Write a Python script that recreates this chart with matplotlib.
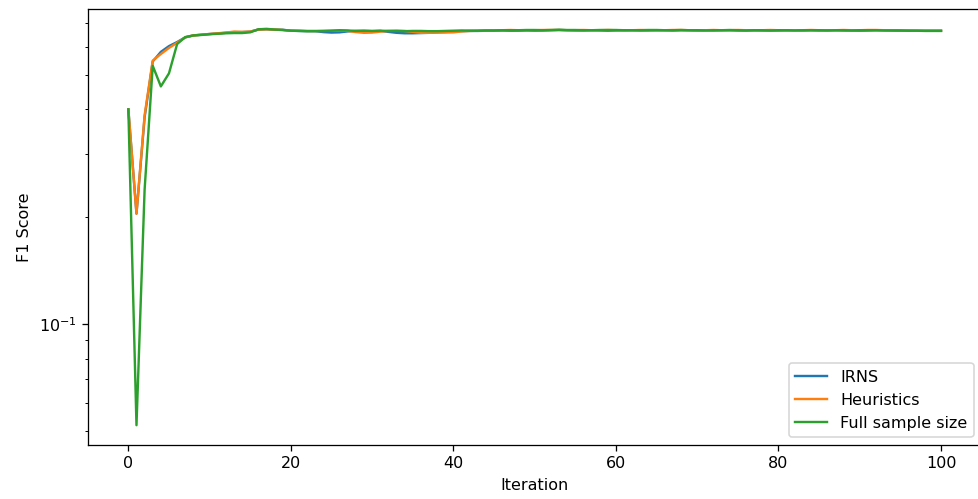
import numpy as np
import matplotlib
matplotlib.use("Agg")
import matplotlib.pyplot as plt

iterations = np.arange(101)

f1_irns = [
    0.400, 0.204, 0.380, 0.545, 0.580, 0.602, 0.618, 0.637, 0.645, 0.648,
    0.651, 0.653, 0.656, 0.659, 0.659, 0.661, 0.670, 0.671, 0.669, 0.669,
    0.665, 0.664, 0.663, 0.663, 0.659, 0.657, 0.658, 0.662, 0.664, 0.664,
    0.663, 0.664, 0.660, 0.656, 0.654, 0.654, 0.655, 0.656, 0.658, 0.660,
    0.662, 0.663, 0.664, 0.664, 0.665, 0.665, 0.666, 0.665, 0.665, 0.666,
    0.665, 0.666, 0.667, 0.668, 0.667, 0.666, 0.666, 0.667, 0.666, 0.665,
    0.666, 0.667, 0.667, 0.666, 0.666, 0.667, 0.667, 0.666, 0.667, 0.667,
    0.666, 0.667, 0.666, 0.667, 0.667, 0.666, 0.666, 0.667, 0.666, 0.666,
    0.666, 0.667, 0.667, 0.666, 0.667, 0.666, 0.667, 0.667, 0.666, 0.666,
    0.665, 0.666, 0.667, 0.667, 0.666, 0.665, 0.665, 0.665, 0.665, 0.665,
    0.665,
]

f1_heuristics = [
    0.400, 0.204, 0.385, 0.548, 0.572, 0.595, 0.615, 0.637, 0.645, 0.648,
    0.651, 0.654, 0.657, 0.661, 0.660, 0.661, 0.670, 0.671, 0.670, 0.668,
    0.665, 0.665, 0.664, 0.664, 0.664, 0.665, 0.666, 0.664, 0.659, 0.656,
    0.657, 0.661, 0.664, 0.665, 0.664, 0.660, 0.656, 0.656, 0.657, 0.657,
    0.658, 0.662, 0.664, 0.665, 0.666, 0.666, 0.667, 0.668, 0.667, 0.667,
    0.667, 0.668, 0.668, 0.668, 0.667, 0.667, 0.668, 0.667, 0.667, 0.668,
    0.667, 0.666, 0.667, 0.668, 0.667, 0.666, 0.667, 0.668, 0.668, 0.667,
    0.666, 0.667, 0.668, 0.667, 0.667, 0.668, 0.667, 0.666, 0.667, 0.668,
    0.667, 0.666, 0.667, 0.667, 0.668, 0.667, 0.666, 0.667, 0.668, 0.667,
    0.667, 0.668, 0.668, 0.667, 0.667, 0.666, 0.666, 0.665, 0.665, 0.665,
    0.665,
]

f1_full = [
    0.400, 0.052, 0.238, 0.530, 0.464, 0.505, 0.610, 0.638, 0.645, 0.647,
    0.650, 0.652, 0.654, 0.655, 0.655, 0.658, 0.671, 0.673, 0.670, 0.668,
    0.665, 0.664, 0.663, 0.663, 0.664, 0.665, 0.667, 0.666, 0.664, 0.665,
    0.664, 0.665, 0.664, 0.664, 0.663, 0.664, 0.664, 0.663, 0.663, 0.664,
    0.665, 0.666, 0.665, 0.665, 0.666, 0.666, 0.667, 0.667, 0.667, 0.668,
    0.668, 0.667, 0.668, 0.669, 0.668, 0.668, 0.667, 0.667, 0.668, 0.668,
    0.668, 0.667, 0.667, 0.667, 0.668, 0.668, 0.667, 0.667, 0.668, 0.667,
    0.667, 0.666, 0.667, 0.667, 0.668, 0.667, 0.666, 0.667, 0.667, 0.666,
    0.667, 0.667, 0.666, 0.667, 0.667, 0.667, 0.666, 0.667, 0.667, 0.666,
    0.667, 0.667, 0.667, 0.666, 0.666, 0.666, 0.665, 0.665, 0.664, 0.664,
    0.664,
]

dpi = 115
fig = plt.figure(figsize=(979 / dpi, 499 / dpi), dpi=dpi)
# el eje se extiende un poco más allá del borde derecho de la figura
ax = fig.add_axes([0.0896, 0.1082, 0.9131, 0.8737])

ax.plot(iterations, f1_irns, label="IRNS")
ax.plot(iterations, f1_heuristics, label="Heuristics")
ax.plot(iterations, f1_full, label="Full sample size")

ax.set_yscale("log")
ax.set_xlabel("Iteration")
ax.set_ylabel("F1 Score")
ax.legend(loc="lower right")

fig.savefig("out.png", dpi=dpi)
